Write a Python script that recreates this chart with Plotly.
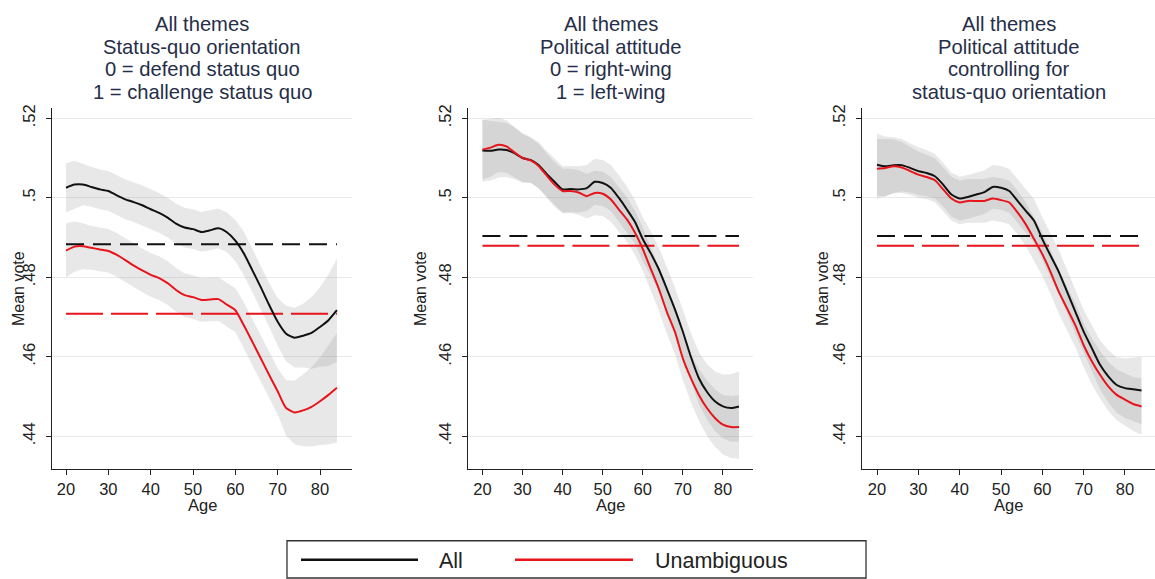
import plotly.graph_objects as go

# ---------------------------------------------------------------------------
# Data: smoothed mean vote by age, with confidence-band half widths
# ---------------------------------------------------------------------------
ages = [20, 22, 24, 26, 28, 30, 32, 34, 36, 38, 40, 42, 44, 46, 48, 50, 52,
        54, 56, 58, 60, 62, 64, 66, 68, 70, 72, 74, 76, 78, 80, 82, 84]

series_names = ["All", "Unambiguous"]
series_colors = ["#111111", "#e8141b"]

# Panel 1: status-quo orientation
sq_all = [0.5025, 0.5033, 0.5033, 0.5027, 0.5021, 0.5017, 0.5006, 0.4996,
          0.4989, 0.4981, 0.4971, 0.4962, 0.4950, 0.4935, 0.4925, 0.4921,
          0.4914, 0.4918, 0.4923, 0.4913, 0.4892, 0.4860, 0.4818, 0.4775,
          0.4730, 0.4688, 0.4658, 0.4648, 0.4653, 0.4660, 0.4675, 0.4692,
          0.4717]
sq_unamb = [0.4867, 0.4877, 0.4878, 0.4874, 0.4870, 0.4866, 0.4856, 0.4843,
            0.4829, 0.4817, 0.4806, 0.4798, 0.4785, 0.4768, 0.4755, 0.4750,
            0.4743, 0.4744, 0.4745, 0.4731, 0.4717, 0.4679, 0.4638, 0.4596,
            0.4554, 0.4513, 0.4471, 0.4460, 0.4465, 0.4474, 0.4488, 0.4504,
            0.4522]
sq_all_ci = [0.0062, 0.0060, 0.0052, 0.0050, 0.0050, 0.0050, 0.0050, 0.0050,
             0.0050, 0.0050, 0.0050, 0.0050, 0.0050, 0.0050, 0.0050, 0.0050,
             0.0050, 0.0050, 0.0050, 0.0050, 0.0052, 0.0055, 0.0055, 0.0055,
             0.0055, 0.0060, 0.0070, 0.0075, 0.0080, 0.0090, 0.0100, 0.0115,
             0.0130]
sq_unamb_ci = [0.0068, 0.0063, 0.0058, 0.0055, 0.0055, 0.0055, 0.0055, 0.0055,
               0.0055, 0.0055, 0.0055, 0.0055, 0.0055, 0.0055, 0.0055, 0.0055,
               0.0055, 0.0055, 0.0055, 0.0055, 0.0055, 0.0058, 0.0058, 0.0058,
               0.0058, 0.0058, 0.0070, 0.0080, 0.0090, 0.0100, 0.0110, 0.0125,
               0.0138]
sq_mean_all = 0.4883
sq_mean_unamb = 0.4708

# Panel 2: political attitude
pol_all = [0.5119, 0.5118, 0.5121, 0.5120, 0.5112, 0.5100, 0.5095, 0.5082,
           0.5060, 0.5040, 0.5021, 0.5022, 0.5021, 0.5024, 0.5040, 0.5037,
           0.5025, 0.5000, 0.4971, 0.4940, 0.4896, 0.4860, 0.4820, 0.4771,
           0.4720, 0.4663, 0.4600, 0.4546, 0.4512, 0.4488, 0.4475, 0.4471,
           0.4475]
pol_unamb = [0.5121, 0.5126, 0.5133, 0.5129, 0.5114, 0.5100, 0.5094, 0.5080,
             0.5056, 0.5033, 0.5017, 0.5017, 0.5013, 0.5004, 0.5012, 0.5010,
             0.4996, 0.4971, 0.4946, 0.4913, 0.4871, 0.4821, 0.4771, 0.4713,
             0.4663, 0.4596, 0.4546, 0.4504, 0.4471, 0.4446, 0.4429, 0.4423,
             0.4423]
pol_all_ci = [0.0078, 0.0075, 0.0070, 0.0068, 0.0065, 0.0063, 0.0058, 0.0058,
              0.0058, 0.0058, 0.0058, 0.0058, 0.0058, 0.0058, 0.0058, 0.0058,
              0.0058, 0.0058, 0.0058, 0.0055, 0.0055, 0.0055, 0.0055, 0.0055,
              0.0055, 0.0055, 0.0060, 0.0065, 0.0070, 0.0075, 0.0080, 0.0085,
              0.0088]
pol_unamb_ci = [0.0075, 0.0073, 0.0068, 0.0066, 0.0063, 0.0060, 0.0056, 0.0056,
                0.0056, 0.0056, 0.0056, 0.0056, 0.0056, 0.0056, 0.0056, 0.0056,
                0.0056, 0.0056, 0.0056, 0.0055, 0.0055, 0.0055, 0.0055, 0.0055,
                0.0055, 0.0055, 0.0060, 0.0065, 0.0070, 0.0072, 0.0075, 0.0078,
                0.0080]
pol_mean_all = 0.4904
pol_mean_unamb = 0.4879

# Panel 3: political attitude controlling for status-quo orientation
ctl_all = [0.5083, 0.5079, 0.5082, 0.5082, 0.5075, 0.5067, 0.5062, 0.5054,
           0.5033, 0.5008, 0.4998, 0.5002, 0.5008, 0.5014, 0.5027, 0.5025,
           0.5017, 0.4992, 0.4967, 0.4942, 0.4896, 0.4854, 0.4813, 0.4763,
           0.4713, 0.4663, 0.4621, 0.4579, 0.4550, 0.4529, 0.4521, 0.4518,
           0.4515]
ctl_unamb = [0.5073, 0.5075, 0.5079, 0.5076, 0.5067, 0.5058, 0.5052, 0.5044,
             0.5021, 0.4998, 0.4988, 0.4992, 0.4992, 0.4992, 0.4998, 0.4994,
             0.4988, 0.4963, 0.4933, 0.4896, 0.4858, 0.4813, 0.4763, 0.4721,
             0.4679, 0.4629, 0.4588, 0.4554, 0.4525, 0.4504, 0.4492, 0.4481,
             0.4475]
ctl_all_ci = [0.0078, 0.0075, 0.0070, 0.0066, 0.0062, 0.0060, 0.0058, 0.0056,
              0.0055, 0.0055, 0.0055, 0.0055, 0.0055, 0.0055, 0.0055, 0.0055,
              0.0055, 0.0055, 0.0055, 0.0055, 0.0055, 0.0055, 0.0055, 0.0055,
              0.0055, 0.0055, 0.0058, 0.0062, 0.0066, 0.0070, 0.0075, 0.0080,
              0.0085]
ctl_unamb_ci = [0.0075, 0.0072, 0.0068, 0.0064, 0.0060, 0.0058, 0.0056, 0.0055,
                0.0055, 0.0055, 0.0055, 0.0055, 0.0055, 0.0055, 0.0055, 0.0055,
                0.0055, 0.0055, 0.0055, 0.0055, 0.0055, 0.0055, 0.0055, 0.0055,
                0.0055, 0.0055, 0.0058, 0.0060, 0.0062, 0.0064, 0.0066, 0.0068,
                0.0071]
ctl_mean_all = 0.4904
ctl_mean_unamb = 0.4879

panel_titles = [
    ["All themes", "Status-quo orientation", "0 = defend status quo",
     "1 = challenge status quo"],
    ["All themes", "Political attitude", "0 = right-wing", "1 = left-wing"],
    ["All themes", "Political attitude", "controlling for",
     "status-quo orientation"],
]

x_title = "Age"
y_title = "Mean vote"
y_tick_vals = [0.44, 0.46, 0.48, 0.50, 0.52]
y_tick_text = [".44", ".46", ".48", ".5", ".52"]
x_tick_vals = [20, 30, 40, 50, 60, 70, 80]

panels = [
    dict(curves=[sq_all, sq_unamb], cis=[sq_all_ci, sq_unamb_ci],
         means=[sq_mean_all, sq_mean_unamb]),
    dict(curves=[pol_all, pol_unamb], cis=[pol_all_ci, pol_unamb_ci],
         means=[pol_mean_all, pol_mean_unamb]),
    dict(curves=[ctl_all, ctl_unamb], cis=[ctl_all_ci, ctl_unamb_ci],
         means=[ctl_mean_all, ctl_mean_unamb]),
]

# ---------------------------------------------------------------------------
# Layout geometry (pixels of a 1155 x 579 canvas)
# ---------------------------------------------------------------------------
W, H = 1155, 579
FONT = "Liberation Sans, Arial, sans-serif"
TITLE_COLOR = "#262e48"
TEXT_COLOR = "#222222"
BAND_COLOR = "rgba(140,140,140,0.2)"
DASHES = ["18px,9px", "37px,8px"]
TITLE_SIZE = 20.2
TITLE_STEP = 22.7


def px_x(v):
    return v / W


def px_y(v):
    return 1 - v / H


# plot areas: left, right pixel edges and x ranges
plot_x = [(52, 352), (468, 753), (862, 1155)]
x_ranges = [[16.69, 87.56], [16.4, 87.5], [16.37, 87.26]]
y_title_x = [18, 420, 822]
plot_top, plot_bottom = 105, 468
y_range = [0.43182, 0.5225]

fig = go.Figure()

for i, panel in enumerate(panels):
    xa = "x" if i == 0 else f"x{i + 1}"
    ya = "y" if i == 0 else f"y{i + 1}"
    # confidence bands
    for curve, ci in zip(panel["curves"], panel["cis"]):
        upper = [c + h for c, h in zip(curve, ci)]
        lower = [c - h for c, h in zip(curve, ci)]
        fig.add_trace(go.Scatter(
            x=ages + ages[::-1], y=upper + lower[::-1], fill="toself",
            fillcolor=BAND_COLOR, line=dict(width=0), mode="lines",
            hoverinfo="skip", showlegend=False, xaxis=xa, yaxis=ya))
    # overall means (dashed)
    for k, m in enumerate(panel["means"]):
        fig.add_trace(go.Scatter(
            x=[ages[0], ages[-1]], y=[m, m], mode="lines",
            line=dict(color=series_colors[k], width=2, dash=DASHES[k]),
            showlegend=False, hoverinfo="skip", xaxis=xa, yaxis=ya))
    # smoothed curves
    for k, curve in enumerate(panel["curves"]):
        fig.add_trace(go.Scatter(
            x=ages, y=curve, mode="lines", name=series_names[k],
            line=dict(color=series_colors[k], width=2, shape="spline",
                      smoothing=0.6),
            showlegend=False, xaxis=xa, yaxis=ya))

layout = dict(
    width=W, height=H,
    margin=dict(l=0, r=0, t=0, b=0),
    paper_bgcolor="white", plot_bgcolor="white",
    font=dict(family=FONT, color=TEXT_COLOR),
    showlegend=False,
)

annotations = []
shapes = []
for i in range(3):
    xs = "" if i == 0 else str(i + 1)
    left, right = plot_x[i]
    layout[f"xaxis{xs}"] = dict(
        domain=[px_x(left), px_x(right)], range=x_ranges[i],
        anchor=f"y{xs}", tickvals=x_tick_vals, ticks="outside", ticklen=5,
        tickwidth=1, tickcolor="#222", showline=True, linecolor="#222",
        linewidth=1.2, showgrid=False, zeroline=False,
        tickfont=dict(size=16.5, color=TEXT_COLOR),
    )
    layout[f"yaxis{xs}"] = dict(
        domain=[px_y(plot_bottom), px_y(plot_top)], range=y_range,
        anchor=f"x{xs}", tickvals=y_tick_vals, ticktext=y_tick_text,
        tickangle=-90, ticks="outside", ticklen=5, tickwidth=1,
        tickcolor="#222", showline=True, linecolor="#222", linewidth=1.2,
        showgrid=True, gridcolor="#e6ebec", gridwidth=1, zeroline=False,
        tickfont=dict(size=16.5, color=TEXT_COLOR), ticklabelstandoff=4,
    )
    cx = px_x((left + right) / 2)
    # axis titles
    annotations.append(dict(
        text=x_title, x=cx, y=px_y(504), xref="paper", yref="paper",
        xanchor="center", yanchor="middle", showarrow=False,
        font=dict(size=16.5, color=TEXT_COLOR)))
    annotations.append(dict(
        text=y_title, x=px_x(y_title_x[i]), y=px_y(287), xref="paper",
        yref="paper", xanchor="center", yanchor="middle", textangle=-90,
        showarrow=False, font=dict(size=16, color=TEXT_COLOR)))
    # multi-line panel titles, one annotation per line
    for j, line in enumerate(panel_titles[i]):
        annotations.append(dict(
            text=line, x=cx, y=px_y(20.5 + TITLE_STEP * j), xref="paper",
            yref="paper", xanchor="center", yanchor="middle",
            showarrow=False, font=dict(size=TITLE_SIZE, color=TITLE_COLOR)))

# legend box drawn below the panels
shapes.append(dict(type="rect", xref="paper", yref="paper",
                   x0=px_x(287), x1=px_x(866), y0=px_y(578), y1=px_y(540.5),
                   line=dict(color="#333", width=1.3), fillcolor="white"))
legend_items = [(301, 418, 437), (515, 633, 653)]
for k, (l0, l1, tx) in enumerate(legend_items):
    shapes.append(dict(type="line", xref="paper", yref="paper",
                       x0=px_x(l0), x1=px_x(l1), y0=px_y(559.5),
                       y1=px_y(559.5),
                       line=dict(color=series_colors[k], width=2.5)))
    annotations.append(dict(
        text=series_names[k], x=px_x(tx), y=px_y(561), xref="paper",
        yref="paper", xanchor="left", yanchor="middle", showarrow=False,
        font=dict(size=21.5, color=TEXT_COLOR)))

layout["annotations"] = annotations
layout["shapes"] = shapes
fig.update_layout(**layout)

fig.write_html("out.html")
